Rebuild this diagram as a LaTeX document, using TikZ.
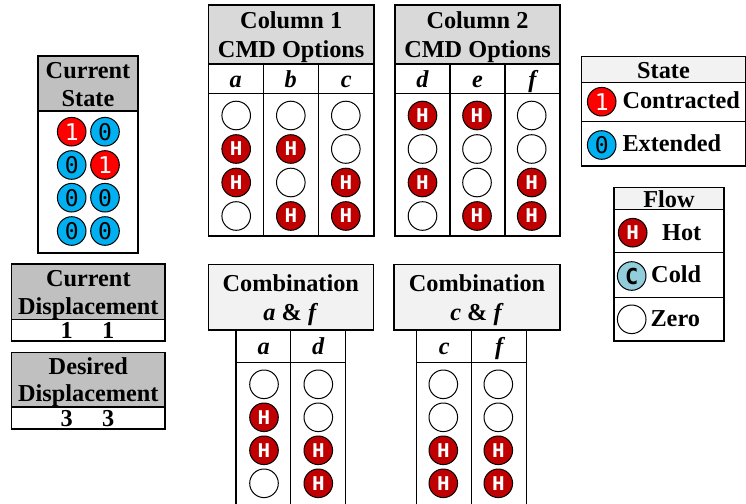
\documentclass[tikz,border=0pt]{standalone}
\usepackage{fontspec}
\setmainfont{Liberation Serif}
\newfontfamily\digitfont{DejaVu Sans Mono}
\newfontfamily\slabmono{Liberation Mono}

\definecolor{headgray}{HTML}{C0C0C0}
\definecolor{colgray}{HTML}{D9D9D9}
\definecolor{lightgray}{HTML}{F2F2F2}
\definecolor{hotred}{HTML}{C00000}
\definecolor{stateRed}{HTML}{FF0000}
\definecolor{stateBlue}{HTML}{00B0F0}
\definecolor{coldteal}{HTML}{92CDDC}

\tikzset{
  frame/.style={draw, line width=1.3pt, inner sep=0pt, outer sep=0pt, anchor=north west},
  txt/.style={inner sep=0pt, outer sep=0pt, anchor=base,
    font=\fontsize{24.3}{28}\selectfont\bfseries},
  ltxt/.style={txt, anchor=base west},
  itxt/.style={txt, font=\fontsize{24.3}{28}\selectfont\bfseries\itshape},
  ring/.style={circle, draw, line width=1pt, minimum size=28.6pt, inner sep=0pt},
  zero/.style={ring, fill=white},
  hot/.style={ring, fill=hotred, text=white,
    font=\fontsize{21}{21}\selectfont\slabmono\bfseries},
  cold/.style={ring, fill=coldteal, text=black,
    font=\fontsize{22}{22}\selectfont\digitfont\bfseries},
  one/.style={ring, fill=stateRed, text=white,
    font=\fontsize{23}{23}\selectfont\digitfont},
  nil/.style={ring, fill=stateBlue, text=black,
    font=\fontsize{23}{23}\selectfont\digitfont},
}

% rectangular cell from its top-left to its bottom-right corner
\newcommand\cellbox[6]{%
  \pgfmathsetmacro\cellW{#4-#2}\pgfmathsetmacro\cellH{#5-#3}%
  \node[frame, fill=#6, minimum width=\cellW pt, minimum height=\cellH pt] (#1) at (#2,#3) {};}

\begin{document}
\begin{tikzpicture}[x=1pt,y=-1pt]
\useasboundingbox (0,0) rectangle (746,503);
\clip (0,0) rectangle (746,503);

% ---------- Current State ----------
\cellbox{csHead}{38}{56}{138}{111}{headgray}
\cellbox{csBody}{38}{111}{138}{253}{white}
\node[txt] (csT1) at (88,78.3) {Current};
\node[txt] (csT2) at (88,106.3) {State};
\node[one] (cs11) at (71.7,131.7) {1};
\node[nil] (cs12) at (105,131.7) {0};
\node[nil] (cs21) at (71.7,165) {0};
\node[one] (cs22) at (105,165) {1};
\node[nil] (cs31) at (71.7,197.7) {0};
\node[nil] (cs32) at (105,197.7) {0};
\node[nil] (cs41) at (71.7,231) {0};
\node[nil] (cs42) at (105,231) {0};

% ---------- Current Displacement ----------
\cellbox{cdHead}{11.7}{264}{165}{319.3}{headgray}
\cellbox{cdVal}{11.7}{319.3}{165}{341}{white}
\node[txt] (cdT1) at (88.3,286) {Current};
\node[txt] (cdT2) at (88.3,314) {Displacement};
\node[txt] (cdV1) at (66.7,338.3) {1};
\node[txt] (cdV2) at (108.3,338.3) {1};

% ---------- Desired Displacement ----------
\cellbox{ddHead}{11.7}{352.7}{165}{407}{headgray}
\cellbox{ddVal}{11.7}{407}{165}{429}{white}
\node[txt] (ddT1) at (88.3,374) {Desired};
\node[txt] (ddT2) at (88.3,401.7) {Displacement};
\node[txt] (ddV1) at (66.7,426.7) {3};
\node[txt] (ddV2) at (108.3,426.7) {3};

% ---------- Column 1 CMD Options ----------
\cellbox{aHead}{208.3}{5}{374}{64}{colgray}
\node[txt] (aT1) at (291.2,28.3) {Column 1};
\node[txt] (aT2) at (291.2,57) {CMD Options};
\cellbox{aSa}{208.3}{64}{263.3}{93.3}{white}
\cellbox{aSb}{263.3}{64}{318.3}{93.3}{white}
\cellbox{aSc}{318.3}{64}{374}{93.3}{white}
\cellbox{aBa}{208.3}{93.3}{263.3}{236}{white}
\cellbox{aBb}{263.3}{93.3}{318.3}{236}{white}
\cellbox{aBc}{318.3}{93.3}{374}{236}{white}
\node[itxt] (aLa) at (235.8,87.3) {a};
\node[itxt] (aLb) at (290.8,87.3) {b};
\node[itxt] (aLc) at (346.2,87.3) {c};
\node[zero] (a1) at (236.2,115.5) {};
\node[hot]  (a2) at (236.2,149) {H};
\node[hot]  (a3) at (236.2,182.5) {H};
\node[zero] (a4) at (236.2,216) {};
\node[zero] (b1) at (290.8,115.5) {};
\node[hot]  (b2) at (290.8,149) {H};
\node[zero] (b3) at (290.8,182.5) {};
\node[hot]  (b4) at (290.8,216) {H};
\node[zero] (c1) at (345.8,115.5) {};
\node[zero] (c2) at (345.8,149) {};
\node[hot]  (c3) at (345.8,182.5) {H};
\node[hot]  (c4) at (345.8,216) {H};

% ---------- Column 2 CMD Options ----------
\cellbox{bHead}{395}{5}{560}{64}{colgray}
\node[txt] (bT1) at (477.5,28.3) {Column 2};
\node[txt] (bT2) at (477.5,57) {CMD Options};
\cellbox{bSd}{395}{64}{450}{93.3}{white}
\cellbox{bSe}{450}{64}{505}{93.3}{white}
\cellbox{bSf}{505}{64}{560}{93.3}{white}
\cellbox{bBd}{395}{93.3}{450}{236}{white}
\cellbox{bBe}{450}{93.3}{505}{236}{white}
\cellbox{bBf}{505}{93.3}{560}{236}{white}
\node[itxt] (bLd) at (422.5,87.3) {d};
\node[itxt] (bLe) at (477.5,87.3) {e};
\node[itxt] (bLf) at (532.5,87.3) {f};
\node[hot]  (d1) at (422.5,115.5) {H};
\node[zero] (d2) at (422.5,149) {};
\node[hot]  (d3) at (422.5,182.5) {H};
\node[zero] (d4) at (422.5,216) {};
\node[hot]  (e1) at (477,115.5) {H};
\node[zero] (e2) at (477,149) {};
\node[zero] (e3) at (477,182.5) {};
\node[hot]  (e4) at (477,216) {H};
\node[zero] (f1) at (531.7,115.5) {};
\node[zero] (f2) at (531.7,149) {};
\node[hot]  (f3) at (531.7,182.5) {H};
\node[hot]  (f4) at (531.7,216) {H};

% ---------- State legend ----------
\cellbox{stHead}{581.7}{56.7}{745.3}{82.7}{lightgray}
\cellbox{stRow1}{581.7}{82.7}{745.3}{121.7}{white}
\cellbox{stRow2}{581.7}{121.7}{745.3}{166}{white}
\node[txt] (stT) at (663.5,78.3) {State};
\node[one] (stOne) at (601.7,101.7) {1};
\node[ltxt] (stC) at (622.5,108.3) {Contracted};
\node[nil] (stZero) at (601.7,145) {0};
\node[ltxt] (stE) at (622.5,151.7) {Extended};

% ---------- Flow legend ----------
\cellbox{flHead}{614}{187.3}{724}{209.3}{lightgray}
\cellbox{flRow1}{614}{209.3}{724}{252.7}{white}
\cellbox{flRow2}{614}{252.7}{724}{297.3}{white}
\cellbox{flRow3}{614}{297.3}{724}{341}{white}
\node[txt] (flT) at (669,207.3) {Flow};
\node[hot] (flHot) at (632.7,232.7) {H};
\node[txt] (flH) at (681.7,240) {Hot};
\node[cold] (flCold) at (631.7,276) {C};
\node[ltxt] (flC) at (651.2,282.7) {Cold};
\node[zero] (flZero) at (631.7,319.3) {};
\node[ltxt] (flZ) at (650.5,326.7) {Zero};

% ---------- Combination a & f ----------
\cellbox{caHead}{208.3}{264.3}{373.3}{330}{lightgray}
\node[txt] (caT1) at (290.8,291) {Combination};
\node[txt] (caT2) at (290.8,320) {\textit{a} \& \textit{f}};
\cellbox{caSa}{236}{330}{290.7}{362.7}{white}
\cellbox{caSd}{290.7}{330}{345.7}{362.7}{white}
\cellbox{caBa}{236}{362.7}{290.7}{520}{white}
\cellbox{caBd}{290.7}{362.7}{345.7}{520}{white}
\node[itxt] (caLa) at (263.7,354.3) {a};
\node[itxt] (caLd) at (318.3,354.3) {d};
\node[zero] (ca1) at (264,384.3) {};
\node[hot]  (ca2) at (264,417.3) {H};
\node[hot]  (ca3) at (264,450.3) {H};
\node[zero] (ca4) at (264,483.3) {};
\node[zero] (cd1) at (318.3,384.3) {};
\node[zero] (cd2) at (318.3,417.3) {};
\node[hot]  (cd3) at (318.3,450.3) {H};
\node[hot]  (cd4) at (318.3,483.3) {H};

% ---------- Combination c & f ----------
\cellbox{ccHead}{394}{264.3}{560}{330}{lightgray}
\node[txt] (ccT1) at (477,291) {Combination};
\node[txt] (ccT2) at (477,320) {\textit{c} \& \textit{f}};
\cellbox{ccSc}{416.7}{330}{471.7}{362.7}{white}
\cellbox{ccSf}{471.7}{330}{526.7}{362.7}{white}
\cellbox{ccBc}{416.7}{362.7}{471.7}{520}{white}
\cellbox{ccBf}{471.7}{362.7}{526.7}{520}{white}
\node[itxt] (ccLc) at (444.2,354.3) {c};
\node[itxt] (ccLf) at (499.2,354.3) {f};
\node[zero] (cc1) at (443.3,384.3) {};
\node[zero] (cc2) at (443.3,417.3) {};
\node[hot]  (cc3) at (443.3,450.3) {H};
\node[hot]  (cc4) at (443.3,483.3) {H};
\node[zero] (cf1) at (498.3,384.3) {};
\node[zero] (cf2) at (498.3,417.3) {};
\node[hot]  (cf3) at (498.3,450.3) {H};
\node[hot]  (cf4) at (498.3,483.3) {H};
\end{tikzpicture}
\end{document}
